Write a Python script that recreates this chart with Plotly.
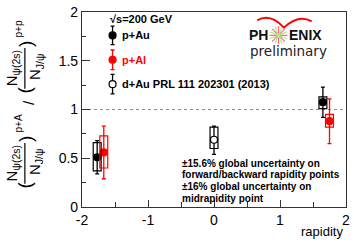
import plotly.graph_objects as go

# ---------------- data ----------------
series = ["p+Au", "p+Al", "d+Au PRL 111 202301 (2013)"]
pAu_x = [-1.77, 1.65]
pAu_y = [0.51, 1.075]
pAu_stat_hi = [0.17, 0.155]
pAu_stat_lo = [0.17, 0.155]
pAu_sys_lo = [0.37, 1.01]
pAu_sys_hi = [0.66, 1.13]

pAl_x = [-1.67, 1.75]
pAl_y = [0.56, 0.88]
pAl_stat_hi = [0.27, 0.23]
pAl_stat_lo = [0.27, 0.23]
pAl_sys_lo = [0.40, 0.82]
pAl_sys_hi = [0.73, 0.95]

dAu_x = [0.0]
dAu_y = [0.69]
dAu_stat_hi = [0.14]
dAu_stat_lo = [0.15]
dAu_sys_lo = [0.60]
dAu_sys_hi = [0.82]

x_tickvals = [-2, -1, 0, 1, 2]
x_ticktext = ["-2", "-1", "0", "1", "2"]
y_tickvals = [0, 0.5, 1, 1.5, 2]
y_ticktext = ["0", "0.5", "1", "1.5", "2"]

legend_x = -1.537
legend_y = [1.76, 1.51, 1.26]
legend_err = [0.095, 0.1, 0.1]
reference_level = 1.0

notes = ["±15.6% global uncertainty on",
         "forward/backward rapidity points",
         "±16% global uncertainty on",
         "midrapidity point"]

# ---------------- layout geometry ----------------
W, H = 354, 245
L, R, T, B = 82, 4, 6, 38
PW, PH = W - L - R, H - T - B
FONT = "Liberation Sans, Arial, sans-serif"
BOXHW = 0.06
RED = "#ff0000"


def paper(px, py):
    return (px - L) / PW, (H - B - py) / PH


def datac(px, py):
    return -2 + 4 * (px - L) / PW, 2 * (H - B - py) / PH


fig = go.Figure()
shapes = []
annotations = []


def add_series(xs, ys, hi, lo, slo, shi, color, fill, name):
    for x, a, b in zip(xs, slo, shi):
        shapes.append(dict(type="rect", xref="x", yref="y", x0=x - BOXHW, x1=x + BOXHW,
                           y0=a, y1=b, line=dict(color=color, width=1.2),
                           fillcolor="rgba(0,0,0,0)", layer="above"))
    fig.add_trace(go.Scatter(
        x=xs, y=ys, mode="markers", name=name, showlegend=False,
        marker=dict(size=7, color=fill, line=dict(color=color, width=1.2)),
        error_y=dict(type="data", symmetric=False, array=hi, arrayminus=lo,
                     color=color, thickness=1.3, width=2),
        cliponaxis=False))


# reference line
shapes.append(dict(type="line", xref="x", yref="y", x0=-2, x1=2,
                   y0=reference_level, y1=reference_level,
                   line=dict(color="#888888", width=1, dash="dot"), layer="below"))

add_series(pAu_x, pAu_y, pAu_stat_hi, pAu_stat_lo, pAu_sys_lo, pAu_sys_hi, "black", "black", series[0])
add_series(pAl_x, pAl_y, pAl_stat_hi, pAl_stat_lo, pAl_sys_lo, pAl_sys_hi, RED, RED, series[1])
add_series(dAu_x, dAu_y, dAu_stat_hi, dAu_stat_lo, dAu_sys_lo, dAu_sys_hi, "black", "white", series[2])

# legend keys
leg_colors = ["black", RED, "black"]
leg_fills = ["black", RED, "white"]
for yy, ee, c, f, name in zip(legend_y, legend_err, leg_colors, leg_fills, series):
    fig.add_trace(go.Scatter(
        x=[legend_x], y=[yy], mode="markers", showlegend=False,
        marker=dict(size=7, color=f, line=dict(color=c, width=1.2)),
        error_y=dict(type="constant", value=ee, color=c, thickness=1.3, width=2)))
    annotations.append(dict(x=legend_x + 0.12, y=yy, xref="x", yref="y", text="<b>%s</b>" % name,
                            showarrow=False, xanchor="left", yanchor="middle",
                            font=dict(family=FONT, size=11, color=c)))

annotations.append(dict(x=legend_x - 0.07, y=1.925, xref="x", yref="y",
                        text="<b>\u221As=200 GeV</b>", showarrow=False,
                        xanchor="left", yanchor="middle",
                        font=dict(family=FONT, size=11, color="black")))

# global uncertainty notes
for i, line in enumerate(notes):
    px, py = paper(181, 162 + 12 * i)
    annotations.append(dict(x=px, y=py, xref="paper", yref="paper", text="<b>%s</b>" % line,
                            showarrow=False, xanchor="left", yanchor="middle",
                            font=dict(family=FONT, size=10, color="black")))

# PHENIX logo
px, py = paper(273, 30)
annotations.append(dict(x=px, y=py, xref="paper", yref="paper", text="<b>PH</b>",
                        showarrow=False, xanchor="right", yanchor="middle",
                        font=dict(family=FONT, size=14, color="#111111")))
sx, sy = datac(281.5, 30)
for ang in (0, 22.5):
    fig.add_trace(go.Scatter(x=[sx], y=[sy], mode="markers", showlegend=False, hoverinfo="skip",
                             marker=dict(symbol="asterisk-open", size=15, angle=ang,
                                         line=dict(color="#b0b0b0", width=1.2))))
px, py = paper(290, 30)
annotations.append(dict(x=px, y=py, xref="paper", yref="paper", text="<b>ENIX</b>",
                        showarrow=False, xanchor="left", yanchor="middle",
                        font=dict(family=FONT, size=14, color="#111111")))
px, py = paper(291.5, 46)
annotations.append(dict(x=px, y=py, xref="paper", yref="paper", text="preliminary",
                        showarrow=False, xanchor="center", yanchor="middle",
                        font=dict(family="DejaVu Sans", size=13.5, color="#222222")))
shapes.append(dict(type="path", xref="x", yref="y",
                   path="M 0.657,1.915 Q 0.85,1.99 1.06,1.84 Q 1.28,1.98 1.48,1.905",
                   line=dict(color=RED, width=2)))

# y axis title (built from pieces)
def ytext(text, px, py, size):
    ax, ay = paper(px, py)
    annotations.append(dict(x=ax, y=ay, xref="paper", yref="paper", text=text,
                            showarrow=False, textangle=-90, xanchor="center", yanchor="middle",
                            font=dict(family=FONT, size=size, color="black")))


for cy, sup in [(162, "p+A"), (64, "p+p")]:
    ytext("N<sub>\u03c8(2s)</sub>", 11, cy, 15)
    ytext("N<sub>J/\u03c8</sub>", 35, cy - 2, 15)
    x0, y0 = paper(24, cy - 21)
    x1, y1 = paper(24, cy + 21)
    shapes.append(dict(type="line", xref="paper", yref="paper", x0=x0, x1=x1, y0=y0, y1=y1,
                       line=dict(color="black", width=1.2)))
    ytext("(", 24, cy + 22, 19)
    ytext(")", 24, cy - 25, 19)
    ytext(sup, 18, cy - 41, 10)
ytext("/", 27, 99, 15)

# x title
px, py = paper(349, 232)
annotations.append(dict(x=px, y=py, xref="paper", yref="paper", text="rapidity",
                        showarrow=False, xanchor="right", yanchor="middle",
                        font=dict(family=FONT, size=13, color="black")))

fig.update_layout(
    width=W, height=H,
    margin=dict(l=L, r=R, t=T, b=B),
    paper_bgcolor="white", plot_bgcolor="white",
    shapes=shapes, annotations=annotations,
    showlegend=False,
    xaxis=dict(range=[-2, 2], tickvals=x_tickvals, ticktext=x_ticktext,
               ticks="inside", ticklen=7, tickcolor="#333333", showgrid=False, zeroline=False,
               showline=True, linecolor="#333333", linewidth=1.2, mirror=True,
               ticklabeloverflow="allow",
               tickfont=dict(family=FONT, size=14, color="black"),
               minor=dict(tickvals=[-1.5, -0.5, 0.5, 1.5], ticks="inside", ticklen=5,
                          tickcolor="#333333", showgrid=False)),
    yaxis=dict(range=[0, 2], tickvals=y_tickvals, ticktext=y_ticktext,
               ticks="inside", ticklen=8, tickcolor="#333333", showgrid=False, zeroline=False,
               showline=True, linecolor="#333333", linewidth=1.2, mirror=True,
               ticklabeloverflow="allow",
               tickfont=dict(family=FONT, size=14, color="black"),
               minor=dict(dtick=0.25, ticks="inside", ticklen=4,
                          tickcolor="#333333", showgrid=False)),
)

fig.write_html("out.html", config={"displayModeBar": False},
               post_script="document.body.style.margin='0';document.body.style.overflow='hidden';")
